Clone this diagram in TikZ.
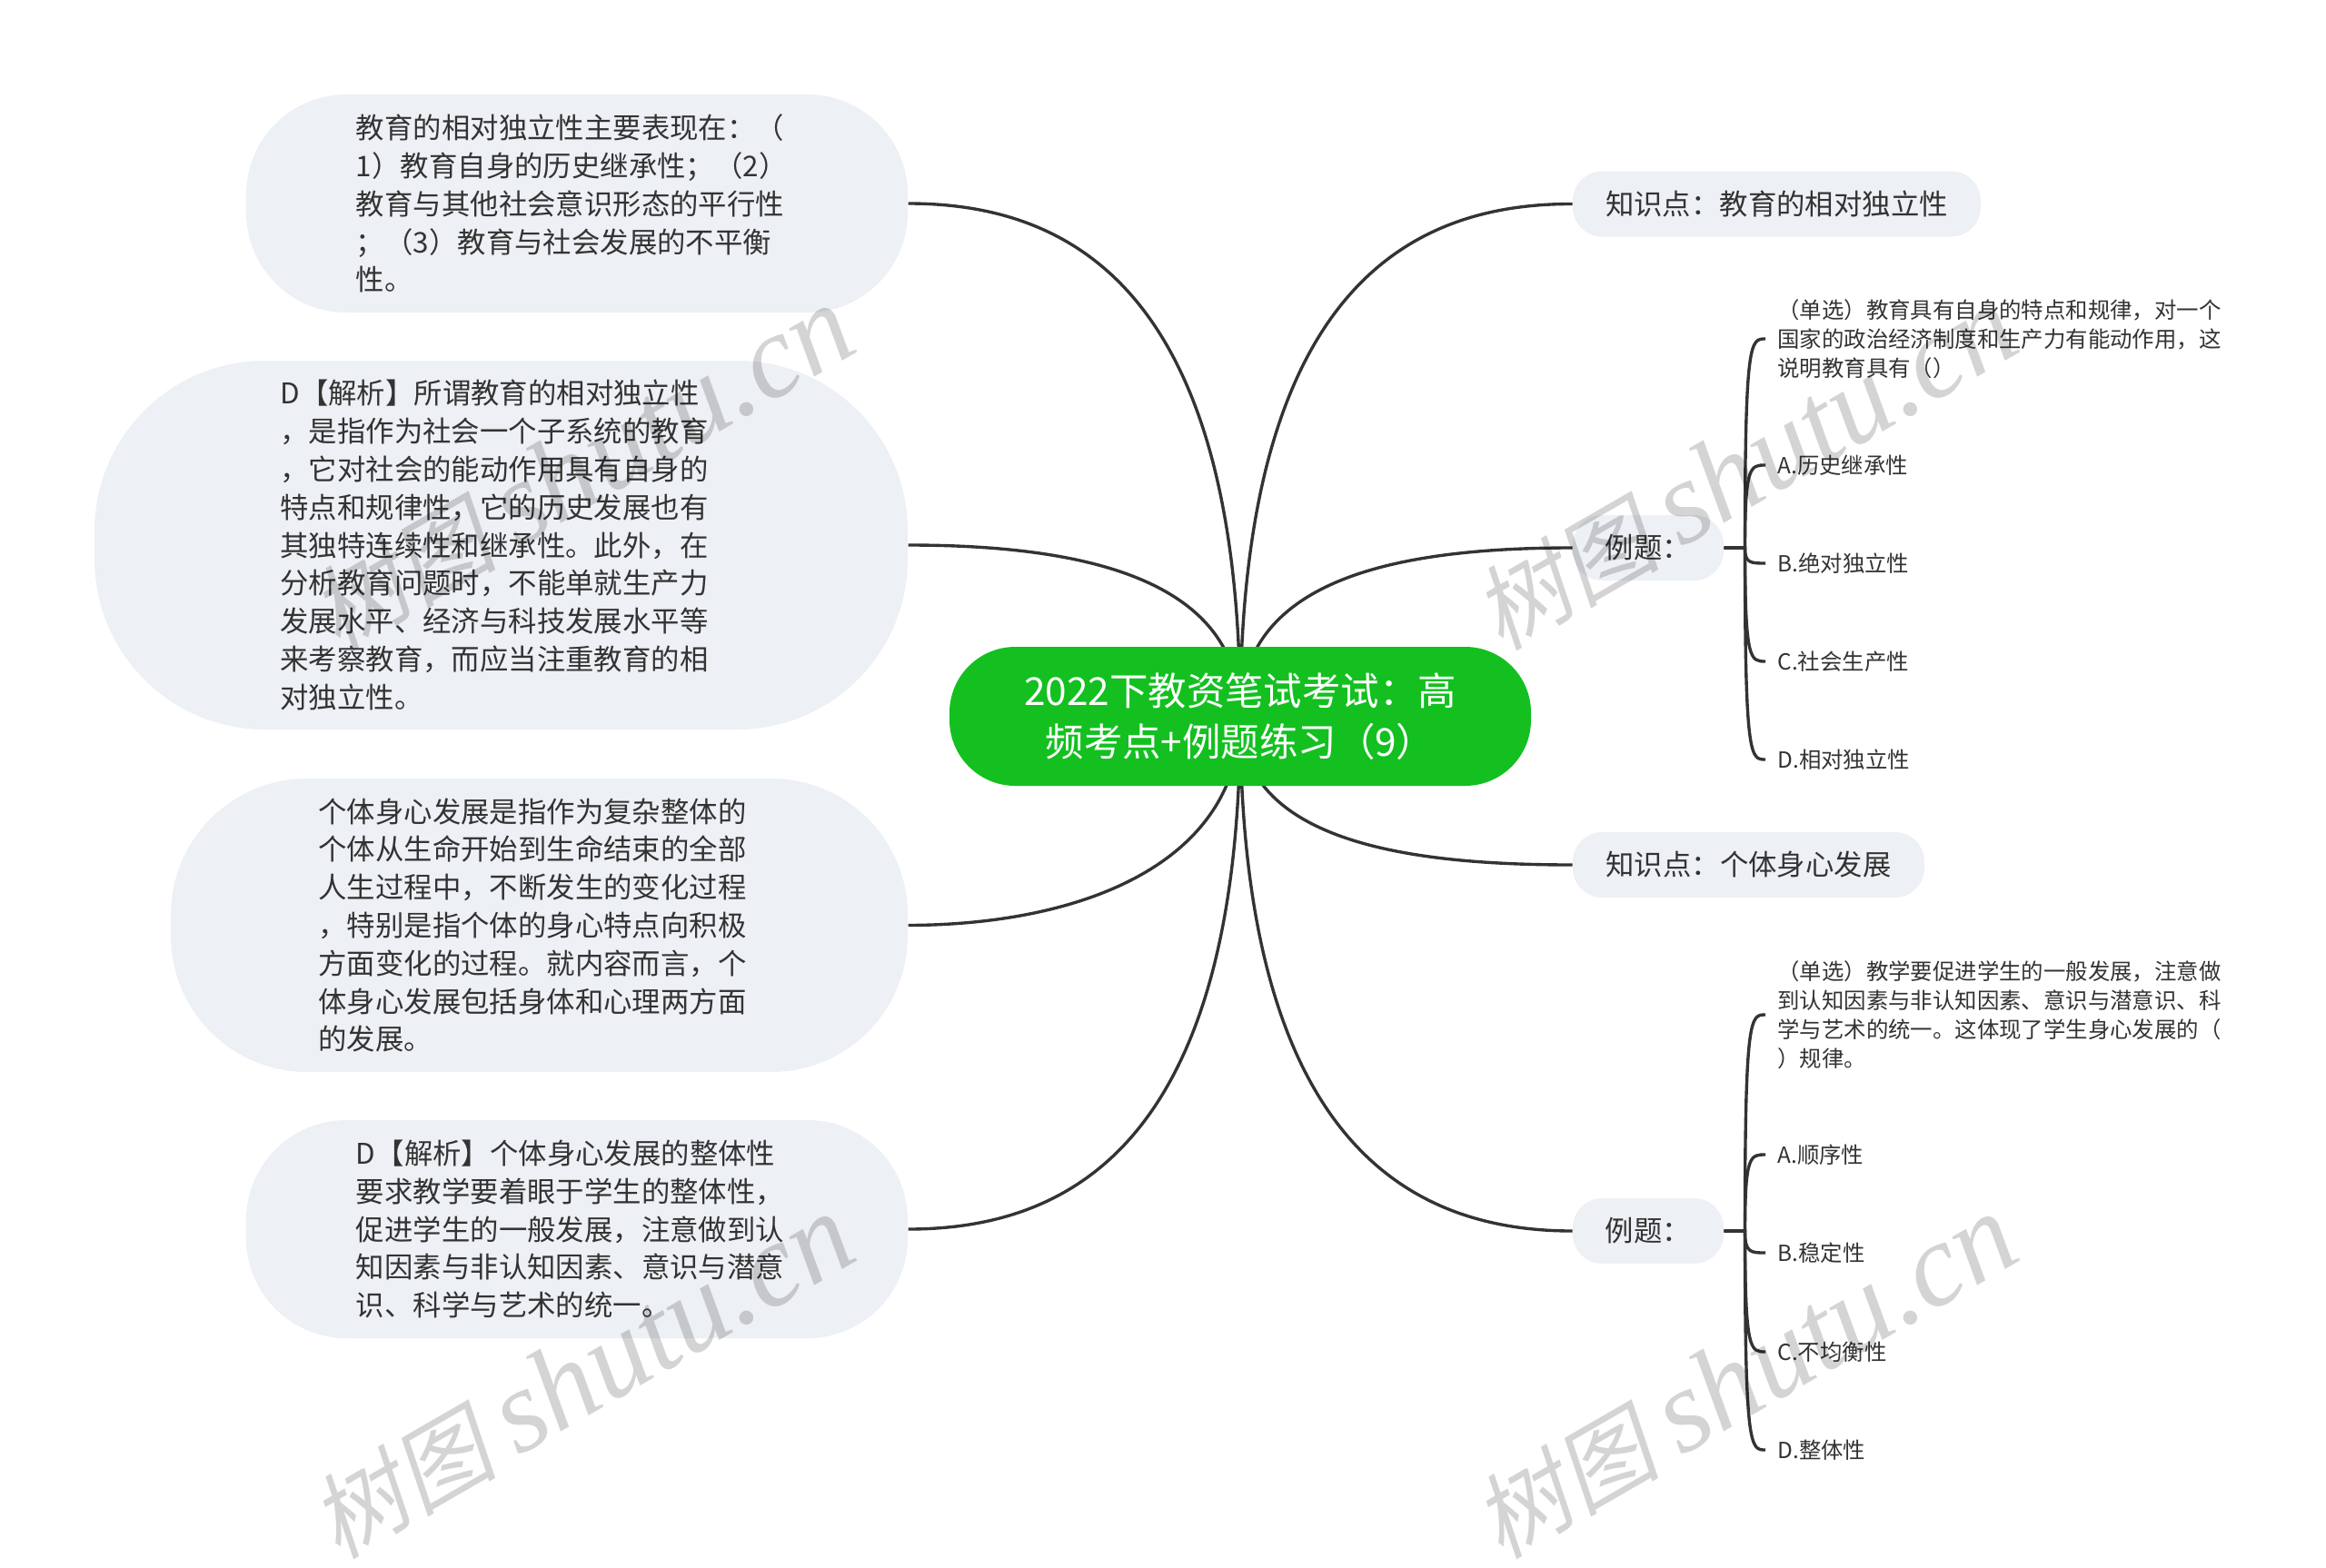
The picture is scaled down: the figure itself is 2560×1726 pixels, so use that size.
\documentclass[tikz,border=0pt]{standalone}
\usepackage{fontspec}
\setmainfont{Noto Sans CJK SC}
\newfontfamily\stampcjk[FakeSlant=0.2]{Noto Sans CJK SC}
\newfontfamily\stamplatin{Liberation Serif}
\usetikzlibrary{backgrounds}
\definecolor{pillgrey}{HTML}{EDF0F4}
\definecolor{rootgreen}{HTML}{13C020}
\definecolor{inkgrey}{HTML}{333333}
\newcommand{\stamptext}{\fontsize{41}{41}\selectfont\stampcjk 树图 \stamplatin\itshape\fontsize{52}{52}\selectfont shutu.cn}
\tikzset{
  pill/.style={fill=pillgrey, text=inkgrey, inner sep=0pt, rounded corners=#1},
  body/.style={pill=#1, align=left, text width=194.4pt, font=\fontsize{12.56}{16.72}\selectfont},
  tag/.style={pill=13pt, minimum height=28.8pt, font=\fontsize{12.56}{16.72}\selectfont},
  leaf/.style={anchor=west, align=left, text=inkgrey, inner xsep=5.2pt, inner ysep=0pt, font=\fontsize{9.76}{12.8}\selectfont},
  link/.style={draw=inkgrey, line width=1.35pt},
  twig/.style={to path={(\tikztostart) -- ++(23,0) coordinate (fork) .. controls (fork |- \tikztotarget) and ([xshift=2.4pt]fork |- \tikztotarget) .. (\tikztotarget)}},
  stamp/.style={rotate=30, text=black, text opacity=0.17, inner sep=0pt}
}
\begin{document}
\begin{tikzpicture}[x=0.4pt, y=-0.4pt]
 \useasboundingbox (0,0) rectangle (2560,1726);
 \node (root) [fill=rootgreen, text=white, rounded corners=29pt, minimum width=256pt, minimum height=61.2pt, align=center, font=\fontsize{16.96}{22.2}\selectfont] at (1365,788.5)
  {2022下教资笔试考试：高\\频考点+例题练习（9）};

 \node (note1) [body=44pt, minimum width=291.2pt, minimum height=96pt] at (635,224)
  {教育的相对独立性主要表现在：（\\1）教育自身的历史继承性；（2）\\教育与其他社会意识形态的平行性\\；（3）教育与社会发展的不平衡\\性。};
 \node (note2) [body=75pt, minimum width=358pt, minimum height=162.4pt] at (551.5,600)
  {D【解析】所谓教育的相对独立性\\，是指作为社会一个子系统的教育\\，它对社会的能动作用具有自身的\\特点和规律性，它的历史发展也有\\其独特连续性和继承性。此外，在\\分析教育问题时，不能单就生产力\\发展水平、经济与科技发展水平等\\来考察教育，而应当注重教育的相\\对独立性。};
 \node (note3) [body=60pt, minimum width=324.4pt, minimum height=129.2pt] at (593.5,1018.5)
  {个体身心发展是指作为复杂整体的\\个体从生命开始到生命结束的全部\\人生过程中，不断发生的变化过程\\，特别是指个体的身心特点向积极\\方面变化的过程。就内容而言，个\\体身心发展包括身体和心理两方面\\的发展。};
 \node (note4) [body=44pt, minimum width=291.2pt, minimum height=96pt] at (635,1353)
  {D【解析】个体身心发展的整体性\\要求教学要着眼于学生的整体性，\\促进学生的一般发展，注意做到认\\知因素与非认知因素、意识与潜意\\识、科学与艺术的统一。};

 \node (point1) [tag, minimum width=179.6pt] at (1955.5,224.5) {知识点：教育的相对独立性};
 \node (quiz1) [tag, minimum width=66.4pt] at (1814,603) {例题：};
 \node (point2) [tag, minimum width=154.8pt] at (1924.5,952) {知识点：个体身心发展};
 \node (quiz2) [tag, minimum width=66.4pt] at (1814,1355) {例题：};

 \node (ask1) [leaf] at (1943,373)
  {（单选）教育具有自身的特点和规律，对一个\\国家的政治经济制度和生产力有能动作用，这\\说明教育具有（）};
 \node (ask1a) [leaf] at (1943,512) {A.历史继承性};
 \node (ask1b) [leaf] at (1943,620) {B.绝对独立性};
 \node (ask1c) [leaf] at (1943,728) {C.社会生产性};
 \node (ask1d) [leaf] at (1943,836) {D.相对独立性};

 \node (ask2) [leaf] at (1943,1117)
  {（单选）教学要促进学生的一般发展，注意做\\到认知因素与非认知因素、意识与潜意识、科\\学与艺术的统一。这体现了学生身心发展的（\\）规律。};
 \node (ask2a) [leaf] at (1943,1271) {A.顺序性};
 \node (ask2b) [leaf] at (1943,1379) {B.稳定性};
 \node (ask2c) [leaf] at (1943,1488) {C.不均衡性};
 \node (ask2d) [leaf] at (1943,1596) {D.整体性};

 \begin{pgfonlayer}{background}
  \path[link] (root.center) .. controls (1365,320) and (1180,224) .. (note1.east);
  \path[link] (root.center) .. controls (1365,640) and (1200,600) .. (note2.east);
  \path[link] (root.center) .. controls (1365,945) and (1200,1018) .. (note3.east);
  \path[link] (root.center) .. controls (1365,1256) and (1180,1353) .. (note4.east);
  \path[link] (root.center) .. controls (1365,320) and (1550,224) .. (point1.west);
  \path[link] (root.center) .. controls (1365,640) and (1530,603) .. (quiz1.west);
  \path[link] (root.center) .. controls (1365,930) and (1560,952) .. (point2.west);
  \path[link] (root.center) .. controls (1365,1256) and (1550,1355) .. (quiz2.west);
 \end{pgfonlayer}

 \path[link]
  (quiz1.east) edge[twig] (ask1.west)
  edge[twig] (ask1a.west)
  edge[twig] (ask1b.west)
  edge[twig] (ask1c.west)
  edge[twig] (ask1d.west)
  (quiz2.east) edge[twig] (ask2.west)
  edge[twig] (ask2a.west)
  edge[twig] (ask2b.west)
  edge[twig] (ask2c.west)
  edge[twig] (ask2d.west)
;

 \node (mark1) [stamp] at (640,516) {\stamptext};
 \node (mark2) [stamp] at (1920,516) {\stamptext};
 \node (mark3) [stamp] at (640,1516) {\stamptext};
 \node (mark4) [stamp] at (1920,1516) {\stamptext};
\end{tikzpicture}
\end{document}
